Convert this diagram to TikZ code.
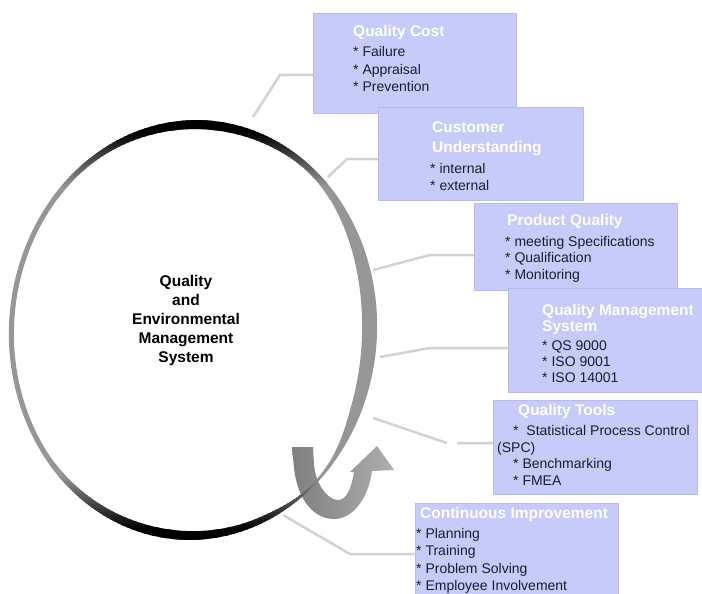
\documentclass[tikz,border=0pt]{standalone}
\usepackage{fontspec}
\setmainfont{Liberation Sans}
\definecolor{boxfill}{RGB}{198,203,250}
\definecolor{boxedge}{RGB}{182,188,240}
\definecolor{linkgray}{RGB}{210,210,210}
\definecolor{itemtxt}{RGB}{28,28,48}
\definecolor{ringgray}{RGB}{150,150,150}
\tikzset{
 infobox/.style={draw=boxedge, line width=0.6pt, fill=boxfill, anchor=north west, inner sep=0pt, outer sep=0pt},
 ttl/.style={anchor=base west, inner sep=0pt, text=white, font=\bfseries\fontsize{15.5}{18}\selectfont},
 itm/.style={anchor=base west, inner sep=0pt, text=itemtxt, font=\fontsize{14}{17}\selectfont},
 link/.style={draw=linkgray, line width=2.5pt, line join=round}
}
\begin{document}
\begin{tikzpicture}[x=1pt,y=-1pt,
 declare function={
  bmp(\d,\w)=max(0,1-(\d/\w)*(\d/\w))*max(0,1-(\d/\w)*(\d/\w));
  ringT(\t)=5+10*bmp(\t+5,55)+4*bmp(\t-95,46)+4*bmp(\t+90,46)+4*bmp(\t-270,46)-3.5*bmp(\t-40,23);
 }]
\useasboundingbox (0,0) rectangle (702,594);
\fill[white] (0,0) rectangle (702,594);

% boxes
\node[infobox, minimum width=203pt, minimum height=100pt] (b1) at (313,13) {};
\node[infobox, minimum width=205pt, minimum height=93pt] (b2) at (378,107) {};
\node[infobox, minimum width=203pt, minimum height=87pt] (b3) at (474,203) {};
\node[infobox, minimum width=197pt, minimum height=104pt] (b4) at (508,288) {};
\node[infobox, minimum width=204pt, minimum height=94pt] (b5) at (493,400) {};
\node[infobox, minimum width=203pt, minimum height=97pt] (b6) at (415,503) {};

% box 1
\node[ttl] (t1) at (353,37) {Quality Cost};
\node[itm] (i1a) at (353,57) {* Failure};
\node[itm] (i1b) at (353,74.5) {* Appraisal};
\node[itm] (i1c) at (353,92) {* Prevention};
% box 2
\node[ttl] (t2a) at (432,132) {Customer};
\node[ttl] (t2b) at (432,152) {Understanding};
\node[itm] (i2a) at (430,173) {* internal};
\node[itm] (i2b) at (430,190) {* external};
% box 3
\node[ttl] (t3) at (507,225) {Product Quality};
\node[itm] (i3a) at (505,246) {* meeting Specifications};
\node[itm] (i3b) at (505,262.5) {* Qualification};
\node[itm] (i3c) at (505,279) {* Monitoring};
% box 4
\node[ttl] (t4a) at (542,315) {Quality Management};
\node[ttl] (t4b) at (542,331.5) {System};
\node[itm] (i4a) at (542,350) {* QS 9000};
\node[itm] (i4b) at (542,366) {* ISO 9001};
\node[itm] (i4c) at (542,382) {* ISO 14001};
% box 5
\node[ttl] (t5) at (518,415) {Quality Tools};
\node[itm] (i5a) at (513,435) {*\ \ Statistical Process Control};
\node[itm] (i5b) at (497,452) {(SPC)};
\node[itm] (i5c) at (513,468) {* Benchmarking};
\node[itm] (i5d) at (513,485) {* FMEA};
% box 6
\node[ttl] (t6) at (420,518) {Continuous Improvement};
\node[itm] (i6a) at (416,538) {* Planning};
\node[itm] (i6b) at (416,555) {* Training};
\node[itm] (i6c) at (416,573) {* Problem Solving};
\node[itm] (i6d) at (416,590) {* Employee Involvement};

% connectors
\coordinate (k1a) at (253,117); \coordinate (k1b) at (280,75);
\draw[link] (k1a) -- (k1b) -- (k1b -| b1.west);
\coordinate (k2a) at (328,177); \coordinate (k2b) at (347,159);
\draw[link] (k2a) -- (k2b) -- (k2b -| b2.west);
\coordinate (k3a) at (373,270); \coordinate (k3b) at (430,255);
\draw[link] (k3a) -- (k3b) -- (k3b -| b3.west);
\coordinate (k4a) at (380,357); \coordinate (k4b) at (430,348);
\draw[link] (k4a) -- (k4b) -- (k4b -| b4.west);
\coordinate (k5a) at (373,418); \coordinate (k5b) at (447,443); \coordinate (k5c) at (457,443);
\draw[link] (k5a) -- (k5b) (k5c) -- (k5c -| b5.west);
\coordinate (k6a) at (283,515); \coordinate (k6b) at (350,554);
\draw[link] (k6a) -- (k6b) -- (k6b -| b6.west);

% U-turn arrow
\shade[left color=black!50, right color=black!32]
 (292,447) -- (294,468) .. controls (298,502) and (315,519) .. (334,519)
 .. controls (352,519) and (368,500) .. (372,471) -- (394,470) -- (377,446)
 -- (350,472) -- (354,472) .. controls (351,490) and (346,500) .. (338,500)
 .. controls (328,500) and (316,485) .. (314,465) -- (313,447) -- cycle;

% ring: tilted outer ellipse minus an inner curve of varying thickness
\begin{scope}[even odd rule]
 \clip
  plot[smooth cycle, domain=-90:265, samples=72, variable=\t]
   ({193+184*cos(\t)*cos(4)-210*sin(\t)*sin(4)},
    {330+184*cos(\t)*sin(4)+210*sin(\t)*cos(4)})
  plot[smooth cycle, domain=-90:265, samples=72, variable=\t]
   ({193+(184-ringT(\t))*cos(\t)*cos(4)-(210-ringT(\t))*sin(\t)*sin(4)},
    {330+(184-ringT(\t))*cos(\t)*sin(4)+(210-ringT(\t))*sin(\t)*cos(4)});
 \fill[ringgray] (0,100) rectangle (400,560);
 \foreach \i in {0,...,40} {
  \pgfmathtruncatemacro\pc{min(100,max(0,100*(35-\i)/27))}
  \fill[black!\pc!ringgray] (0,116+2*\i) rectangle (400,118.6+2*\i);
  \fill[black!\pc!ringgray] (0,546-2*\i) rectangle (400,543.4-2*\i);
 }
\end{scope}

\node[font=\bfseries\fontsize{15.5}{19}\selectfont, align=center, inner sep=0pt] (core) at (186,320)
 {Quality\\and\\Environmental\\Management\\System};
\end{tikzpicture}
\end{document}
